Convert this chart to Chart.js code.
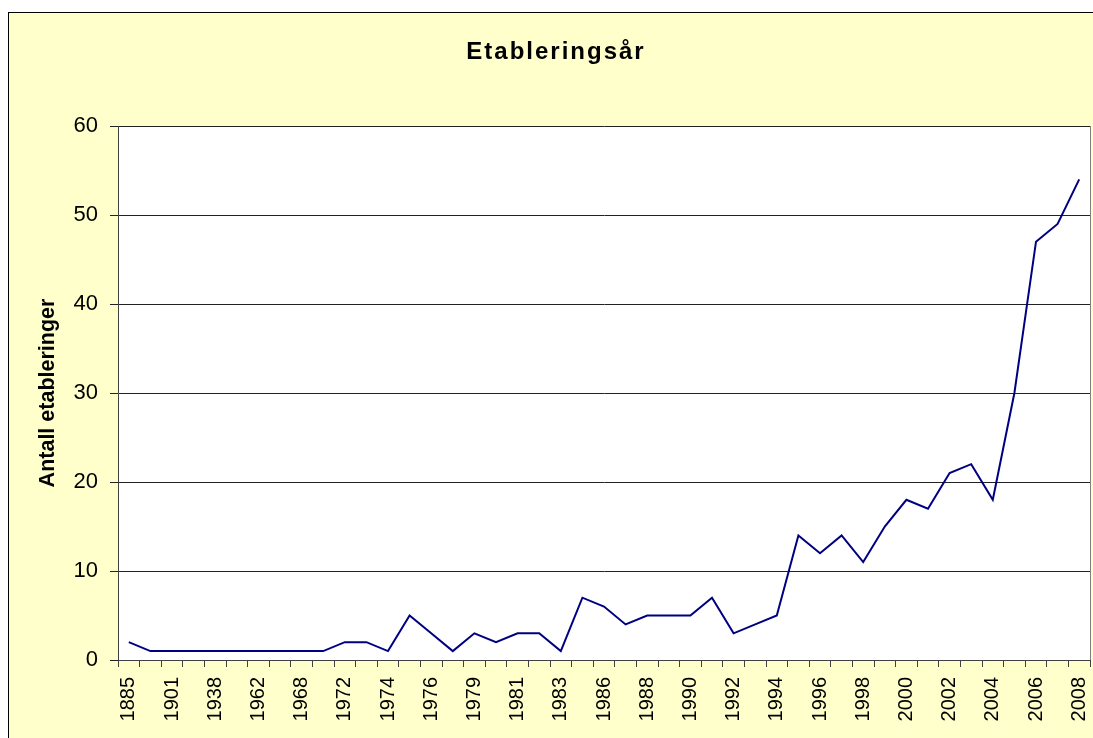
<!DOCTYPE html>
<html>
<head>
<meta charset="utf-8">
<script src="https://cdn.jsdelivr.net/npm/chart.js@4"></script>
<style>
  html, body { margin: 0; padding: 0; background: #fff; }
  #wrap { width: 1093px; height: 738px; }
</style>
</head>
<body>
<div id="wrap"><canvas id="etabChart"></canvas></div>
<script>
// år (kategorier) og antall etableringer
const years = [
  '1885', '1895', '1901', '1920', '1938', '1950', '1962', '1965', '1968', '1970',
  '1972', '1973', '1974', '1975', '1976', '1977', '1979', '1980', '1981', '1982',
  '1983', '1985', '1986', '1987', '1988', '1989', '1990', '1991', '1992', '1993',
  '1994', '1995', '1996', '1997', '1998', '1999', '2000', '2001', '2002', '2003',
  '2004', '2005', '2006', '2007', '2008'
];
const antall = [
  2, 1, 1, 1, 1, 1, 1, 1, 1, 1,
  2, 2, 1, 5, 3, 1, 3, 2, 3, 3,
  1, 7, 6, 4, 5, 5, 5, 7, 3, 4,
  5, 14, 12, 14, 11, 15, 18, 17, 21, 22,
  18, 30, 47, 49, 54
];
const yTicks = [0, 10, 20, 30, 40, 50, 60];
const titleText = 'Etableringsår';

// bakgrunn: gul ramme + hvitt plottområde, tittel med sperret skrift
const bgPlugin = {
  id: 'bg',
  beforeDraw(chart) {
    const ctx = chart.ctx;
    const a = chart.chartArea;
    ctx.save();
    ctx.fillStyle = '#ffffff';
    ctx.fillRect(0, 0, chart.width, chart.height);
    ctx.fillStyle = '#FFFFCC';
    ctx.fillRect(8.5, 12.5, chart.width, chart.height);
    ctx.strokeStyle = '#000000';
    ctx.lineWidth = 1;
    ctx.strokeRect(8.5, 12.5, chart.width + 10, chart.height + 10);
    ctx.fillStyle = '#ffffff';
    ctx.fillRect(a.left, a.top, a.right - a.left, a.bottom - a.top);
    ctx.restore();
  },
  afterDraw(chart) {
    const ctx = chart.ctx;
    const a = chart.chartArea;
    ctx.save();
    ctx.strokeStyle = '#808080';
    ctx.lineWidth = 1;
    ctx.beginPath();
    ctx.moveTo(Math.round(a.right) + 0.5, a.top);
    ctx.lineTo(Math.round(a.right) + 0.5, a.bottom);
    ctx.stroke();

    ctx.fillStyle = '#000';
    ctx.font = 'bold 24px Arial, "Liberation Sans"';
    ctx.letterSpacing = '2px';
    ctx.textAlign = 'center';
    ctx.textBaseline = 'middle';
    ctx.fillText(titleText, 556, 52);
    ctx.letterSpacing = '0px';
    ctx.restore();
  }
};

const config = {
  type: 'line',
  data: {
    labels: years,
    datasets: [{
      label: 'Antall etableringer',
      data: antall,
      borderColor: '#000080',
      borderWidth: 2,
      pointRadius: 0,
      tension: 0,
      fill: false
    }]
  },
  options: {
    responsive: false,
    animation: false,
    layout: { padding: { left: 0, right: 3, top: 126, bottom: 0 } },
    plugins: {
      legend: { display: false },
      tooltip: { enabled: false },
      title: { display: false }
    },
    scales: {
      x: {
        offset: true,
        grid: {
          offset: true,
          drawOnChartArea: false,
          drawTicks: true,
          tickLength: 7,
          color: '#404040'
        },
        border: { color: '#404040' },
        ticks: {
          autoSkip: false,
          minRotation: 90,
          maxRotation: 90,
          padding: 10,
          color: '#000',
          font: { family: 'Arial, "Liberation Sans"', size: 20 },
          callback: function (value, index) {
            return index % 2 === 0 ? years[index] : '';
          }
        },
        afterFit: function (scale) {
          scale.height = 78;
          scale.paddingLeft = 0;
          scale.paddingRight = 0;
        }
      },
      y: {
        min: 0,
        max: 60,
        afterBuildTicks: function (scale) {
          scale.ticks = yTicks.map(v => ({ value: v }));
        },
        grid: { color: '#222222', tickLength: 8 },
        border: { color: '#404040' },
        ticks: {
          padding: 12,
          color: '#000',
          font: { family: 'Arial, "Liberation Sans"', size: 22 }
        },
        title: {
          display: true,
          text: 'Antall etableringer',
          color: '#000',
          font: { family: 'Arial, "Liberation Sans"', size: 21.5, weight: 'bold' },
          padding: { top: 35, bottom: 0 }
        },
        afterFit: function (scale) {
          scale.width = 118;
          scale.paddingTop = 0;
          scale.paddingBottom = 0;
        }
      }
    }
  },
  plugins: [bgPlugin]
};

const canvas = document.getElementById('etabChart');
canvas.width = 1093;
canvas.height = 738;
const etabChart = new Chart(canvas, config);
</script>
</body>
</html>
